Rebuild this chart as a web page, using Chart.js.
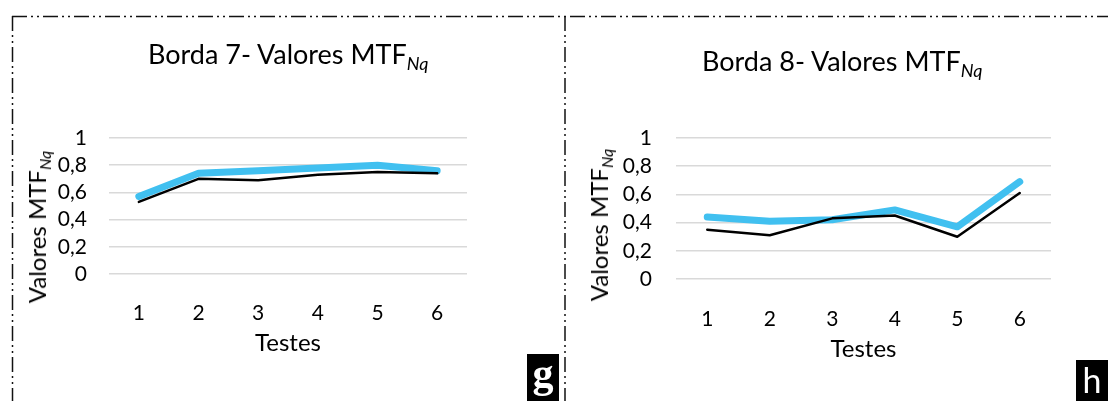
<!DOCTYPE html>
<html>
<head>
<meta charset="utf-8">
<script src="https://cdn.jsdelivr.net/npm/chart.js@4.4.1/dist/chart.umd.min.js"></script>
<style>
  body { margin: 0; width: 1108px; height: 401px; background: #fff; position: relative; overflow: hidden; font-family: Lato, sans-serif; color: #000; }
  .holder { position: absolute; top: 0; height: 401px; }
  .title { position: absolute; font-size: 27px; line-height: 27px; white-space: nowrap; }
  .title sub { font-size: 18px; vertical-align: -6px; }
  .ytitle { position: absolute; font-size: 24px; line-height: 24px; white-space: nowrap; transform: translate(-50%, -50%) rotate(-90deg); }
  .ytitle sub { font-size: 16px; vertical-align: -5px; }
  sub { font-style: italic; line-height: 0; }
  .tag { position: absolute; background: #000; color: #fff; text-align: center; }
</style>
</head>
<body>
<svg width="1108" height="401" style="position:absolute;left:0;top:0">
  <g stroke="#111" stroke-width="1.5" fill="none" stroke-dasharray="15 4 2 4 2 4">
    <path d="M12 16.5 H1108"/>
    <path d="M12.5 16 V401"/>
    <path d="M565 16 V401"/>
  </g>
</svg>

<div class="holder" style="left:0;width:564px"><canvas id="c7"></canvas></div>
<div class="holder" style="left:564px;width:544px"><canvas id="c8"></canvas></div>

<div class="title" style="left:148px;top:40px">Borda 7- Valores MTF<sub>Nq</sub></div>
<div class="title" style="left:702px;top:47px">Borda 8- Valores MTF<sub>Nq</sub></div>
<div class="ytitle" style="left:37px;top:227px">Valores MTF<sub>Nq</sub></div>
<div class="ytitle" style="left:599px;top:225px">Valores MTF<sub>Nq</sub></div>

<div class="tag" style="left:527px;top:354px;width:32px;height:47px;font:bold 42px 'Liberation Serif',serif;line-height:38px">g</div>
<div class="tag" style="left:1076px;top:360px;width:32px;height:41px;font:34px Lato,sans-serif;line-height:40px">h</div>

<script>
// valores
const testes = ['1', '2', '3', '4', '5', '6'];
const borda7Azul = [0.57, 0.74, 0.76, 0.78, 0.80, 0.76];
const borda7Preto = [0.53, 0.70, 0.69, 0.73, 0.75, 0.74];
const borda8Azul = [0.44, 0.41, 0.42, 0.49, 0.37, 0.69];
const borda8Preto = [0.35, 0.31, 0.43, 0.45, 0.30, 0.61];
const yMin = 0, yMax = 1, yStep = 0.2;

const makeChart = (id, azul, preto, g) => {
  return new Chart(document.getElementById(id), {
    type: 'line',
    data: {
      labels: testes,
      datasets: [
        { data: preto, borderColor: '#000', borderWidth: 2.5 },
        { data: azul, borderColor: '#41c0f0', borderWidth: 7 }
      ]
    },
    options: {
      responsive: true,
      maintainAspectRatio: false,
      animation: false,
      layout: { padding: { left: g.left, right: g.right, top: g.top, bottom: g.bottom } },
      elements: {
        point: { radius: 0 },
        line: { tension: 0, borderCapStyle: 'round', borderJoinStyle: 'round', fill: false }
      },
      plugins: { legend: { display: false }, tooltip: { enabled: false }, title: { display: false } },
      scales: {
        x: {
          offset: true,
          grid: { display: false },
          border: { display: false },
          ticks: { color: '#000', font: { family: 'Lato', size: 21 }, padding: g.xPad, maxRotation: 0, autoSkip: false },
          title: { display: true, text: 'Testes', color: '#000', font: { family: 'Lato', size: 24 }, padding: 0 },
          afterFit: s => { s.height = g.xH; }
        },
        y: {
          min: yMin, max: yMax,
          grid: { color: '#d9d9d9', lineWidth: 1.5, drawTicks: false },
          border: { display: false },
          ticks: {
            stepSize: yStep, autoSkip: false, color: '#000', font: { family: 'Lato', size: 21 }, padding: g.yPad,
            callback: v => String(Math.round(v * 10) / 10).replace('.', ',')
          },
          afterFit: s => { s.width = 60; }
        }
      }
    }
  });
};

makeChart('c7', borda7Azul, borda7Preto, { left: 49, right: 97, top: 138, bottom: 43, xH: 84, xPad: 19, yPad: 22 });
makeChart('c8', borda8Azul, borda8Preto, { left: 52, right: 57, top: 138, bottom: 37, xH: 85, xPad: 20, yPad: 24 });
</script>
</body>
</html>
